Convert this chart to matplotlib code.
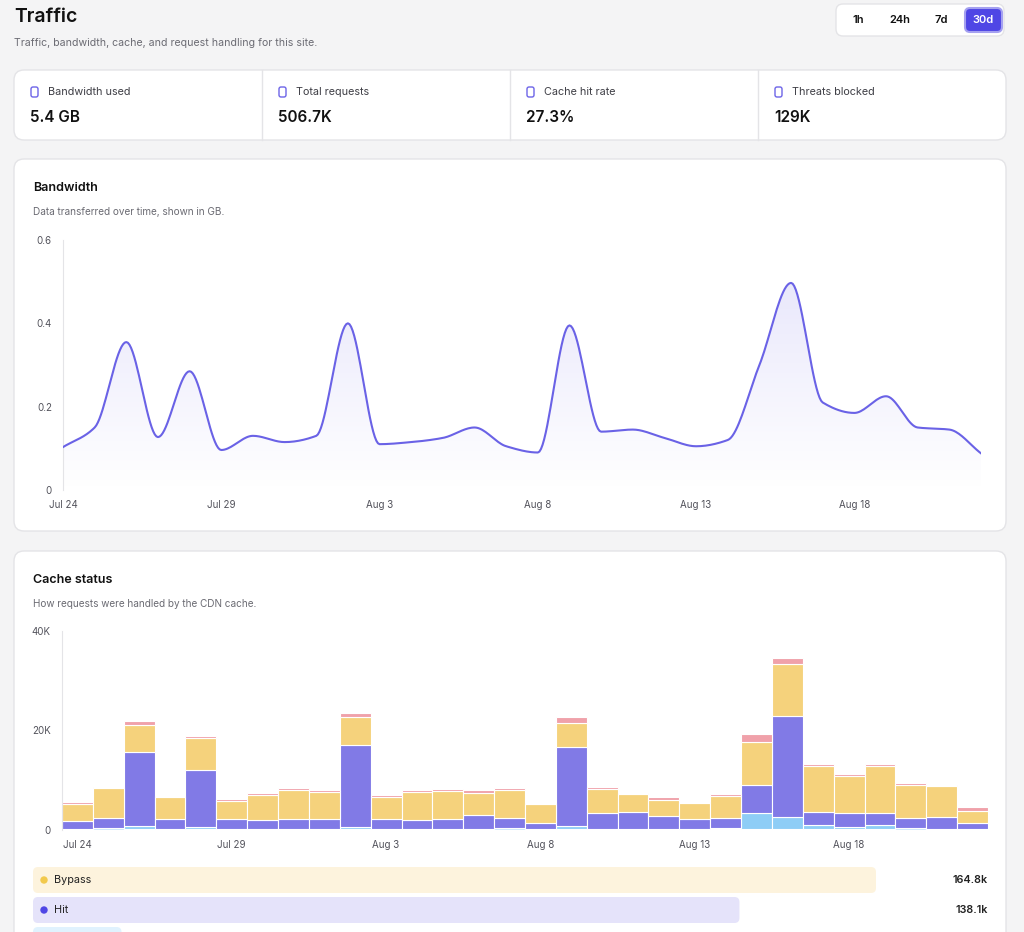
import matplotlib
matplotlib.use("Agg")
import matplotlib.pyplot as plt
import numpy as np
from matplotlib.patches import FancyBboxPatch, Rectangle
from matplotlib.colors import LinearSegmentedColormap

plt.rcParams['font.family'] = ['Inter', 'DejaVu Sans']

days = ["Jul 24","Jul 25","Jul 26","Jul 27","Jul 28","Jul 29","Jul 30","Jul 31","Aug 1","Aug 2",
        "Aug 3","Aug 4","Aug 5","Aug 6","Aug 7","Aug 8","Aug 9","Aug 10","Aug 11","Aug 12",
        "Aug 13","Aug 14","Aug 15","Aug 16","Aug 17","Aug 18","Aug 19","Aug 20","Aug 21","Aug 22"]
tick_labels = ["Jul 24","Jul 29","Aug 3","Aug 8","Aug 13","Aug 18"]
bandwidth_gb = [0.103,0.15,0.355,0.127,0.285,0.096,0.13,0.115,0.13,0.40,
                0.11,0.115,0.125,0.15,0.105,0.09,0.395,0.14,0.145,0.125,
                0.105,0.12,0.30,0.497,0.21,0.185,0.225,0.15,0.145,0.088]
# cache status in K requests
expired = [0.3,0.35,0.3,0.3,0.3,0.3,0.3,0.3,0.3,0.3,0.3,0.3,0.3,0.3,0.4,0.3,0.3,0.3,0.3,0.3,0.3,0.3,0.3,0.3,0.3,0.3,0.3,0.35,0.3,0.3]
miss = [0.0,0.05,0.5,0.0,0.3,0.0,0.0,0.0,0.0,0.4,0.0,0.0,0.0,0.0,0.0,0.0,0.5,0.0,0.0,0.0,0.0,0.2,3.2,2.4,0.8,0.3,0.7,0.0,0.0,0.0]
hit = [1.6,2.0,14.8,2.0,11.4,1.9,1.8,2.0,2.0,16.4,2.0,1.8,2.0,2.8,2.0,1.15,15.8,3.2,3.4,2.5,2.0,1.9,5.5,20.3,2.6,2.8,2.5,2.1,2.3,1.1]
bypass = [3.4,5.95,5.5,4.3,6.5,3.7,4.9,5.7,5.4,5.7,4.4,5.5,5.6,4.3,5.7,3.7,4.9,4.8,3.5,3.2,3.1,4.5,8.7,10.4,9.2,7.4,9.4,6.6,6.2,2.5]
blocked = [0.4,0.35,0.8,0.2,0.4,0.3,0.4,0.4,0.3,0.7,0.3,0.4,0.4,0.6,0.4,0.35,1.3,0.4,0.3,0.6,0.2,0.4,1.5,1.1,0.4,0.5,0.4,0.4,0.3,0.7]
legend_names = ["Bypass", "Hit", ""]
legend_values = ["164.8k", "138.1k", ""]
legend_frac = [1.0, 0.838, 0.105]

stats = [("Bandwidth used", "5.4 GB"), ("Total requests", "506.7K"),
         ("Cache hit rate", "27.3%"), ("Threats blocked", "129K")]

W, H = 1024, 932
fig = plt.figure(figsize=(W/100, H/100), dpi=100)
fig.patch.set_facecolor('#f4f4f5')
bg = fig.add_axes([0, 0, 1, 1])
bg.set_xlim(0, W); bg.set_ylim(H, 0); bg.axis('off')

def card(x0, y0, x1, y1, r=10):
    bg.add_patch(FancyBboxPatch((x0, y0), x1-x0, y1-y0, boxstyle=f"round,pad=0,rounding_size={r}",
                                fc='white', ec='#e4e4e7', lw=1))

bg.text(14, 17, "Traffic", fontsize=14, fontweight='semibold', color='#111', va='center')
bg.text(14, 43, "Traffic, bandwidth, cache, and request handling for this site.", fontsize=7.6, color='#6b6b73', va='center')
card(836, 4, 1004, 36, r=7)
for lab, cx in zip(["1h", "24h", "7d", "30d"], [858, 900, 941, 983]):
    if lab == "30d":
        bg.add_patch(FancyBboxPatch((965, 8), 37, 24, boxstyle="round,pad=0,rounding_size=5",
                                    fc='#4f46e5', ec='#a5a1f0', lw=1.5))
        bg.text(cx, 20, lab, fontsize=8, color='white', ha='center', va='center', fontweight='semibold')
    else:
        bg.text(cx, 20, lab, fontsize=8, color='#111', ha='center', va='center', fontweight='semibold')

card(14, 70, 1006, 140)
for i, (lab, val) in enumerate(stats):
    x = 14 + i*248
    if i > 0:
        bg.plot([x, x], [70, 140], color='#e4e4e7', lw=1)
    bg.add_patch(FancyBboxPatch((x+17, 87), 7, 10, boxstyle="round,pad=0,rounding_size=2", fc='none', ec='#6d64e8', lw=1))
    bg.text(x+34, 92, lab, fontsize=7.8, color='#3f3f46', va='center')
    bg.text(x+16, 117, val, fontsize=11, fontweight='semibold', color='#111', va='center')

card(14, 159, 1006, 531)
bg.text(33, 188, "Bandwidth", fontsize=9, fontweight='semibold', color='#111', va='center')
bg.text(33, 212, "Data transferred over time, shown in GB.", fontsize=7.2, color='#6b6b73', va='center')

card(14, 551, 1006, 960)
bg.text(33, 580, "Cache status", fontsize=9, fontweight='semibold', color='#111', va='center')
bg.text(33, 604, "How requests were handled by the CDN cache.", fontsize=7.2, color='#6b6b73', va='center')

def ax_at(x0, y0, x1, y1):
    return fig.add_axes([x0/W, 1-y1/H, (x1-x0)/W, (y1-y0)/H])

def monotone(x, y, n=20):
    x = np.asarray(x, float); y = np.asarray(y, float)
    h = np.diff(x); d = np.diff(y)/h
    m = np.zeros_like(y)
    m[0], m[-1] = d[0], d[-1]
    for k in range(1, len(y)-1):
        if d[k-1]*d[k] <= 0:
            m[k] = 0
        else:
            m[k] = 3*(h[k-1]+h[k]) / ((2*h[k]+h[k-1])/d[k-1] + (h[k]+2*h[k-1])/d[k])
    xs, ys = [], []
    for k in range(len(h)):
        t = np.linspace(0, 1, n, endpoint=False)
        h00 = 2*t**3-3*t**2+1; h10 = t**3-2*t**2+t; h01 = -2*t**3+3*t**2; h11 = t**3-t**2
        xs.append(x[k]+t*h[k])
        ys.append(h00*y[k]+h10*h[k]*m[k]+h01*y[k+1]+h11*h[k]*m[k+1])
    xs.append([x[-1]]); ys.append([y[-1]])
    return np.concatenate(xs), np.concatenate(ys)

ax1 = ax_at(63, 240, 981, 490)
xi = np.arange(len(bandwidth_gb))
sx, sy = monotone(xi, bandwidth_gb)
ax1.plot(sx, sy, color='#6a62e6', lw=1.5, zorder=3)
cm = LinearSegmentedColormap.from_list('g', ['#ffffff', '#7c74ea'])
im = ax1.imshow(np.linspace(0.0, 0.2, 256).reshape(-1, 1), extent=[0, 29, 0, 0.6], aspect='auto',
                cmap=cm, vmin=0, vmax=1, origin='lower', zorder=1)
poly = ax1.fill_between(sx, sy, 0, color='none')
im.set_clip_path(poly.get_paths()[0], transform=ax1.transData)
ax1.set_xlim(0, 29); ax1.set_ylim(0, 0.6)
ax1.set_yticks([0, 0.2, 0.4, 0.6]); ax1.set_yticklabels(["0", "0.2", "0.4", "0.6"])
ax1.set_xticks([days.index(t) for t in tick_labels]); ax1.set_xticklabels(tick_labels)

ax2 = ax_at(62, 631, 988, 830)
b0 = np.zeros(len(days))
for vals, col in [(expired, '#c8e6fa'), (miss, '#8ecdf6'), (hit, '#817ae6'), (bypass, '#f5d27c'), (blocked, '#f0a1aa')]:
    ax2.bar(xi, vals, bottom=b0, width=1.0, color=col, edgecolor='white', linewidth=0.8, zorder=2)
    b0 = b0 + np.array(vals)
ax2.set_xlim(-0.5, 29.5); ax2.set_ylim(0, 40)
ax2.set_yticks([0, 20, 40]); ax2.set_yticklabels(["0", "20K", "40K"])
ax2.set_xticks([days.index(t) for t in tick_labels]); ax2.set_xticklabels(tick_labels)

for ax in (ax1, ax2):
    ax.set_facecolor('none')
    for s in ['top', 'right', 'bottom']:
        ax.spines[s].set_visible(False)
    ax.spines['left'].set_color('#e4e4e7')
    ax.tick_params(length=0, labelsize=7, colors='#52525b', pad=7)
    ax.tick_params(axis='y', pad=8)

lcol = ['#fdf3dd', '#e5e3fa', '#e0f2fe']
dcol = ['#f2c94c', '#4f46e5', '#38bdf8']
for i, (nm, v, f) in enumerate(zip(legend_names, legend_values, legend_frac)):
    y = 867 + i*30
    bg.add_patch(FancyBboxPatch((33, y), 843*f, 26, boxstyle="round,pad=0,rounding_size=5", fc=lcol[i], ec='none'))
    if nm:
        bg.add_patch(plt.Circle((44, y+13), 3, color=dcol[i]))
        bg.text(54, y+13, nm, fontsize=7.8, color='#222', va='center')
    if v:
        bg.text(988, y+13, v, fontsize=7.8, color='#222', va='center', ha='right', fontweight='semibold')

fig.savefig("out.png", dpi=100, facecolor=fig.get_facecolor())
